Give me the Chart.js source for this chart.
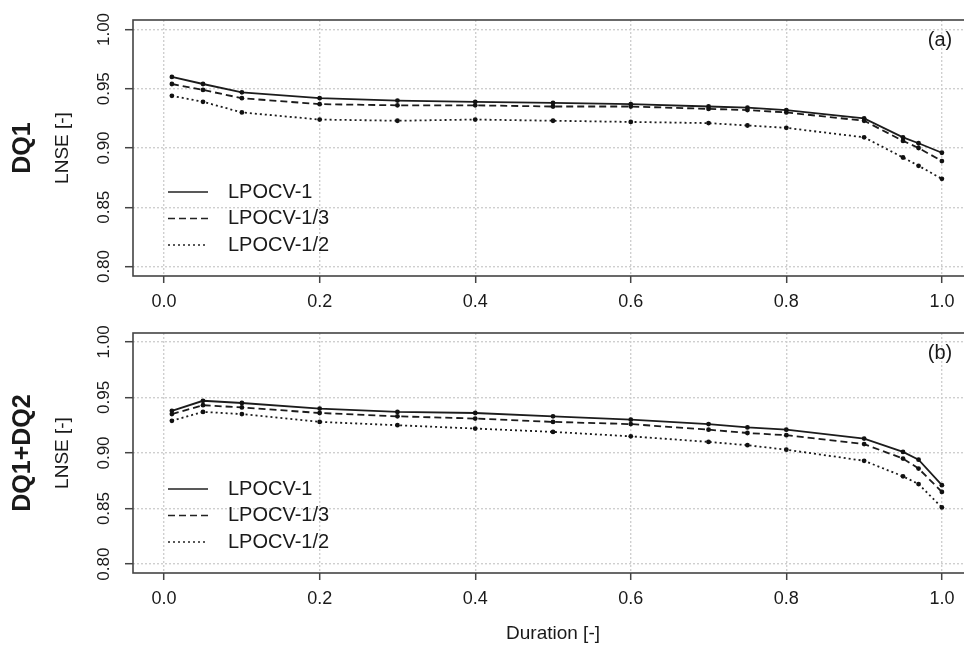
<!DOCTYPE html>
<html>
<head>
<meta charset="utf-8">
<script src="https://cdn.jsdelivr.net/npm/chart.js@4.4.0/dist/chart.umd.min.js"></script>
<style>
  html, body { margin:0; padding:0; background:#fff; overflow:hidden; width:964px; height:645px; }
  .wrap { position:absolute; left:0; width:980px; }
</style>
</head>
<body>
<div class="wrap" style="top:0;height:320px"><canvas id="ca" width="980" height="320"></canvas></div>
<div class="wrap" style="top:313px;height:332px"><canvas id="cb" width="980" height="332"></canvas></div>
<script>
// ---- data ----
const durations = [0.01, 0.05, 0.1, 0.2, 0.3, 0.4, 0.5, 0.6, 0.7, 0.75, 0.8, 0.9, 0.95, 0.97, 1.0];
const seriesNames = ["LPOCV-1", "LPOCV-1/3", "LPOCV-1/2"];

// Panel (a): DQ1
const dq1_lpocv1  = [0.960, 0.954, 0.947, 0.942, 0.940, 0.939, 0.938, 0.937, 0.935, 0.934, 0.932, 0.925, 0.909, 0.904, 0.896];
const dq1_lpocv13 = [0.954, 0.949, 0.942, 0.937, 0.936, 0.936, 0.935, 0.935, 0.933, 0.932, 0.930, 0.923, 0.906, 0.900, 0.889];
const dq1_lpocv12 = [0.944, 0.939, 0.930, 0.924, 0.923, 0.924, 0.923, 0.922, 0.921, 0.919, 0.917, 0.909, 0.892, 0.885, 0.874];

// Panel (b): DQ1+DQ2
const dq12_lpocv1  = [0.938, 0.947, 0.945, 0.940, 0.937, 0.936, 0.933, 0.930, 0.926, 0.923, 0.921, 0.913, 0.901, 0.894, 0.871];
const dq12_lpocv13 = [0.935, 0.943, 0.941, 0.936, 0.933, 0.931, 0.928, 0.926, 0.921, 0.918, 0.916, 0.908, 0.895, 0.886, 0.865];
const dq12_lpocv12 = [0.929, 0.937, 0.935, 0.928, 0.925, 0.922, 0.919, 0.915, 0.910, 0.907, 0.903, 0.893, 0.879, 0.872, 0.851];

const xTicks = [0.0, 0.2, 0.4, 0.6, 0.8, 1.0];
const yTicks = [0.80, 0.85, 0.90, 0.95, 1.00];

// ---- styling ----
const FONT = "'Liberation Sans', Arial, Helvetica, sans-serif";
const INK = '#1a1a1a';
const dashes = [[], [7, 4], [2, 3]];

function makeDatasets(arrs) {
  return arrs.map((vals, i) => ({
    label: seriesNames[i],
    data: durations.map((d, k) => ({ x: d, y: vals[k] })),
    borderColor: '#1c1c1c',
    borderWidth: 1.8,
    borderDash: dashes[i],
    pointRadius: 2.4,
    pointBackgroundColor: '#111',
    pointBorderWidth: 0,
    fill: false,
    tension: 0
  }));
}

const decor = {
  id: 'decor',
  afterDraw(chart) {
    const o = chart.options.plugins.decor;
    const ctx = chart.ctx;
    const ca = chart.chartArea;
    ctx.save();
    // box
    ctx.setLineDash([]);
    ctx.strokeStyle = '#444';
    ctx.lineWidth = 1.6;
    ctx.strokeRect(ca.left, ca.top, ca.right - ca.left, ca.bottom - ca.top);
    // row label
    ctx.fillStyle = INK;
    ctx.save();
    ctx.translate(23, (ca.top + ca.bottom) / 2);
    ctx.rotate(-Math.PI / 2);
    ctx.font = 'bold 25px ' + FONT;
    ctx.textAlign = 'center';
    ctx.textBaseline = 'middle';
    ctx.fillText(o.rowLabel, 0, 0);
    ctx.restore();
    // panel tag
    ctx.font = '20px ' + FONT;
    ctx.textAlign = 'center';
    ctx.textBaseline = 'middle';
    ctx.fillText(o.tag, 940, ca.top + 20);
    // legend
    chart.data.datasets.forEach((ds, i) => {
      const y = ca.bottom - 84 + i * 26.5;
      ctx.strokeStyle = '#222';
      ctx.lineWidth = 1.5;
      ctx.setLineDash(ds.borderDash);
      ctx.beginPath();
      ctx.moveTo(ca.left + 35, y);
      ctx.lineTo(ca.left + 75, y);
      ctx.stroke();
      ctx.setLineDash([]);
      ctx.font = '20px ' + FONT;
      ctx.textAlign = 'left';
      ctx.textBaseline = 'middle';
      ctx.fillStyle = INK;
      ctx.fillText(ds.label, ca.left + 95, y);
    });
    ctx.restore();
  }
};

function makeChart(id, arrs, tag, rowLabel, xAxisHeight, showXTitle) {
  return new Chart(document.getElementById(id), {
    type: 'line',
    data: { datasets: makeDatasets(arrs) },
    options: {
      responsive: false,
      animation: false,
      events: [],
      layout: { padding: { left: 0, top: 20, right: 7, bottom: 0 } },
      plugins: {
        legend: { display: false },
        tooltip: { enabled: false },
        decor: { tag: tag, rowLabel: rowLabel }
      },
      scales: {
        x: {
          type: 'linear',
          min: -0.04,
          max: 1.04,
          afterBuildTicks: (s) => { s.ticks = xTicks.map(v => ({ value: v })); },
          afterFit: (s) => { s.height = xAxisHeight; },
          grid: { color: '#cfcfcf', lineWidth: 1.4, tickColor: '#444', tickLength: 7, tickWidth: 1.5 },
          border: { display: false, dash: [2, 2] },
          ticks: {
            color: INK, font: { size: 18, family: FONT }, padding: 8,
            maxRotation: 0, autoSkip: false,
            callback: (v) => Number(v).toFixed(1)
          },
          title: {
            display: showXTitle, text: 'Duration [-]', color: INK,
            font: { size: 19, family: FONT }, padding: { top: 0, bottom: 0 }
          }
        },
        y: {
          type: 'linear',
          min: 0.792,
          max: 1.008,
          afterBuildTicks: (s) => { s.ticks = yTicks.map(v => ({ value: v })); },
          afterFit: (s) => { s.width = 133; },
          grid: { color: '#cfcfcf', lineWidth: 1.4, tickColor: '#444', tickLength: 8, tickWidth: 1.5 },
          border: { display: false, dash: [2, 2] },
          ticks: {
            color: INK, font: { size: 17, family: FONT }, padding: 4,
            minRotation: 90, maxRotation: 90, crossAlign: 'center', autoSkip: false,
            callback: (v) => Number(v).toFixed(2)
          },
          title: {
            display: true, text: 'LNSE [-]', color: INK,
            font: { size: 19, family: FONT }, padding: { top: 51, bottom: 0 }
          }
        }
      }
    },
    plugins: [decor]
  });
}

makeChart('ca', [dq1_lpocv1, dq1_lpocv13, dq1_lpocv12], '(a)', 'DQ1', 44, false);
makeChart('cb', [dq12_lpocv1, dq12_lpocv13, dq12_lpocv12], '(b)', 'DQ1+DQ2', 72, true);
</script>
</body>
</html>
